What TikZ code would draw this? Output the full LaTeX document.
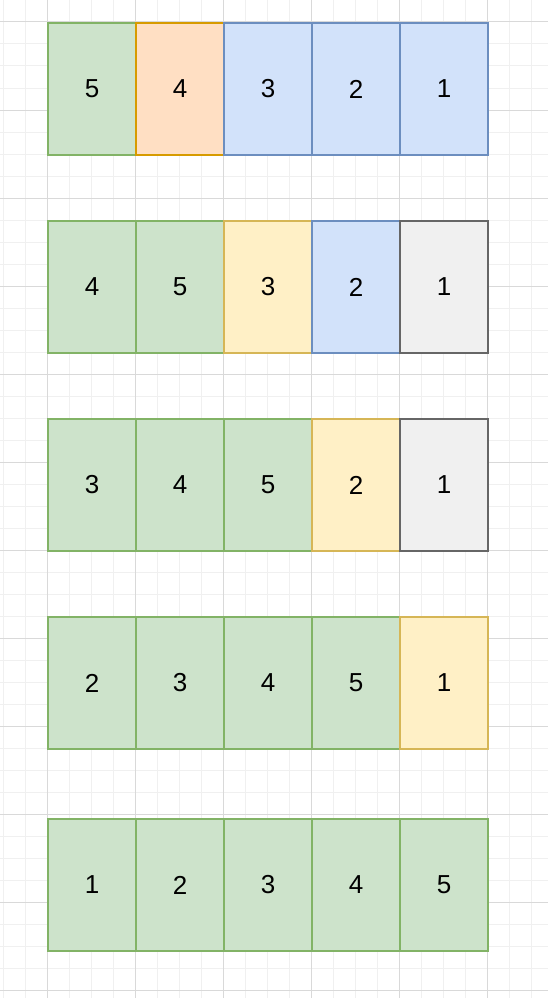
\documentclass[tikz,border=0pt]{standalone}
\usepackage{fontspec}
\setmainfont{Liberation Sans}
\usetikzlibrary{positioning}

\definecolor{greenfill}{HTML}{CDE3CB}
\definecolor{greenline}{HTML}{82B366}
\definecolor{orangefill}{HTML}{FFDFC3}
\definecolor{orangeline}{HTML}{D79B00}
\definecolor{bluefill}{HTML}{D2E2FA}
\definecolor{blueline}{HTML}{6C8EBF}
\definecolor{yellowfill}{HTML}{FFF0C6}
\definecolor{yellowline}{HTML}{D6B656}
\definecolor{grayfill}{HTML}{F0F0F0}
\definecolor{grayline}{HTML}{666666}

\begin{document}
\begin{tikzpicture}[
    x=1pt, y=-1pt,
    node distance=0pt,
    cell/.style={rectangle, minimum width=88pt, minimum height=132pt,
      inner sep=0pt, outer sep=0pt, line width=1.8pt,
      font=\fontsize{26}{30}\selectfont},
    done/.style={cell, fill=greenfill, draw=greenline},
    pick/.style={cell, fill=orangefill, draw=orangeline},
    todo/.style={cell, fill=bluefill, draw=blueline},
    cur/.style={cell, fill=yellowfill, draw=yellowline},
    idle/.style={cell, fill=grayfill, draw=grayline},
    minorgrid/.style={draw=black!6, line width=1pt},
    majorgrid/.style={draw=black!15, line width=1pt}
  ]

  \useasboundingbox (0,0) rectangle (548,998);

  % background grid
  \foreach \gx in {3,25,...,547} \draw[minorgrid] (\gx,0) -- (\gx,998);
  \foreach \gy in {0,22,...,990} \draw[minorgrid] (0,\gy) -- (548,\gy);
  \foreach \gx in {47,135,...,487} \draw[majorgrid] (\gx,0) -- (\gx,998);
  \foreach \gy in {22,110,...,990} \draw[majorgrid] (0,\gy) -- (548,\gy);

  % row 1
  \node (a1) [done] at (92,89)         {5};
  \node (a2) [pick, right=of a1]       {4};
  \node (a3) [todo, right=of a2]       {3};
  \node (a4) [todo, right=of a3]       {2};
  \node (a5) [todo, right=of a4]       {1};

  % row 2
  \node (b1) [done] at (92,287)        {4};
  \node (b2) [done, right=of b1]       {5};
  \node (b3) [cur,  right=of b2]       {3};
  \node (b4) [todo, right=of b3]       {2};
  \node (b5) [idle, right=of b4]       {1};

  % row 3
  \node (c1) [done] at (92,485)        {3};
  \node (c2) [done, right=of c1]       {4};
  \node (c3) [done, right=of c2]       {5};
  \node (c4) [cur,  right=of c3]       {2};
  \node (c5) [idle, right=of c4]       {1};

  % row 4
  \node (d1) [done] at (92,683)        {2};
  \node (d2) [done, right=of d1]       {3};
  \node (d3) [done, right=of d2]       {4};
  \node (d4) [done, right=of d3]       {5};
  \node (d5) [cur,  right=of d4]       {1};

  % row 5
  \node (e1) [done] at (92,885)        {1};
  \node (e2) [done, right=of e1]       {2};
  \node (e3) [done, right=of e2]       {3};
  \node (e4) [done, right=of e3]       {4};
  \node (e5) [done, right=of e4]       {5};

\end{tikzpicture}
\end{document}
